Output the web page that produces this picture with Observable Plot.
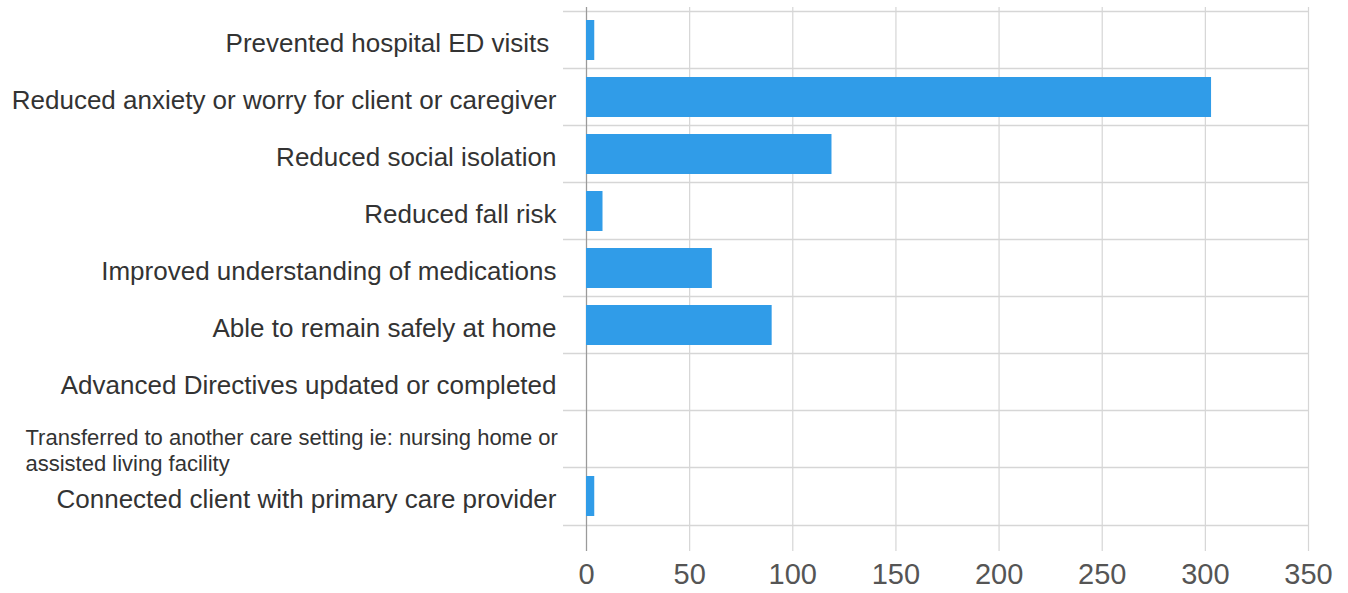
<!DOCTYPE html>
<html>
<head>
<meta charset="utf-8">
<script src="https://cdn.jsdelivr.net/npm/d3@7"></script>
<script src="https://cdn.jsdelivr.net/npm/@observablehq/plot@0.6"></script>
<style>
  html, body { margin: 0; padding: 0; background: #fff; }
  svg text { white-space: pre; }
</style>
</head>
<body>
<div id="chart"></div>
<script>
const categories = [
  "Prevented hospital ED visits ",
  "Reduced anxiety or worry for client or caregiver",
  "Reduced social isolation",
  "Reduced fall risk",
  "Improved understanding of medications",
  "Able to remain safely at home",
  "Advanced Directives updated or completed",
  "Transferred to another care setting ie: nursing home or assisted living facility",
  "Connected client with primary care provider"
];
const values = [4, 303, 119, 8, 61, 90, 0, 0, 4];
const xTicks = [0, 50, 100, 150, 200, 250, 300, 350];
const wrappedLabel = categories[7];

const data = categories.map((c, i) => ({category: c, value: values[i]}));

const W = 1348, H = 593;
const mTop = 7, mBottom = 65, mLeft = 586, mRight = 40;
const step = (H - mTop - mBottom) / categories.length;

const chart = Plot.plot({
  width: W,
  height: H,
  marginTop: mTop,
  marginBottom: mBottom,
  marginLeft: mLeft,
  marginRight: mRight,
  style: {fontFamily: "'Liberation Sans', Arial, sans-serif", background: "#fff"},
  x: {domain: [0, 350], ticks: xTicks, label: null},
  y: {domain: categories, paddingInner: 0.3, paddingOuter: 0.15, axis: null, label: null},
  marks: [
    Plot.ruleX(xTicks, {stroke: "#d6d6d6", strokeWidth: 1.2, insetBottom: -23}),
    Plot.ruleY(categories, {y: d => d, dy: -step / 2, stroke: "#d6d6d6", strokeWidth: 1.5, insetLeft: -23}),
    Plot.ruleY(categories.slice(-1), {y: d => d, dy: step / 2, stroke: "#d6d6d6", strokeWidth: 1.5, insetLeft: -23}),
    Plot.ruleX([0], {stroke: "#9a9a9a", strokeWidth: 1.2, insetBottom: -23}),
    Plot.barX(data, {x: "value", y: "category", fill: "#309ce8"}),
    Plot.axisX({ticks: xTicks, tickSize: 0, tickPadding: 35, fontSize: 29, fill: "#555", label: null}),
    Plot.text(categories.filter(c => c !== wrappedLabel), {
      y: d => d, text: d => d, frameAnchor: "left", textAnchor: "end",
      dx: -30, dy: 3, fontSize: 26, fill: "#333"
    }),
    Plot.text([wrappedLabel], {
      y: d => d, text: d => d, frameAnchor: "left", textAnchor: "start",
      dx: -561, dy: 10, fontSize: 22, lineWidth: 28.5, lineHeight: 1.2, fill: "#333"
    })
  ]
});
document.getElementById("chart").appendChild(chart);
</script>
</body>
</html>
